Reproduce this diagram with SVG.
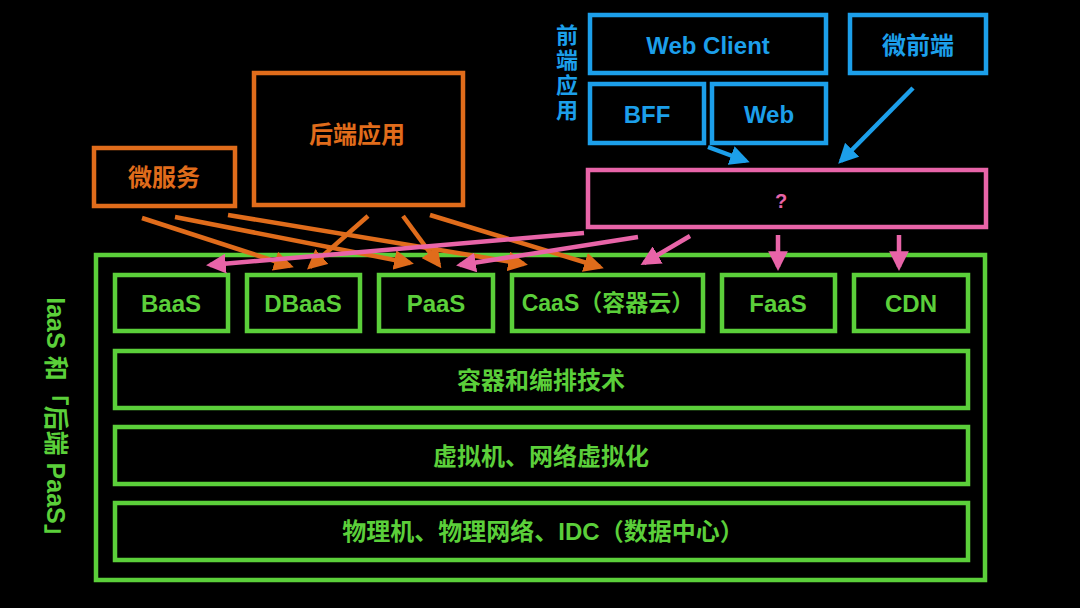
<svg xmlns="http://www.w3.org/2000/svg" width="1080" height="608" viewBox="0 0 1080 608">
<defs>
<style>
text{font-family:"Liberation Sans","Noto Sans CJK SC",sans-serif;font-weight:bold;font-size:24px;text-anchor:middle;dominant-baseline:central}
.o{fill:none;stroke:#E06C1B;stroke-width:4.5}
.b{fill:none;stroke:#1C9FEA;stroke-width:4.5}
.p{fill:none;stroke:#E864A8;stroke-width:4.5}
.g{fill:none;stroke:#5BCF3A;stroke-width:4.5}
.to{fill:#E06C1B}.tb{fill:#1C9FEA}.tp{fill:#E864A8}.tg{fill:#5BCF3A}
.v{font-size:22px}
</style>
<marker id="mo" viewBox="0 0 10 10" refX="8" refY="5" markerWidth="4.4" markerHeight="4.4" orient="auto"><path d="M0,0 L10,5 L0,10 z" fill="#E06C1B"/></marker>
<marker id="mb" viewBox="0 0 10 10" refX="8" refY="5" markerWidth="4.4" markerHeight="4.4" orient="auto"><path d="M0,0 L10,5 L0,10 z" fill="#1C9FEA"/></marker>
<marker id="mp" viewBox="0 0 10 10" refX="8" refY="5" markerWidth="4.4" markerHeight="4.4" orient="auto"><path d="M0,0 L10,5 L0,10 z" fill="#E864A8"/></marker>
</defs>
<rect width="1080" height="608" fill="#000"/>

<g id="backend">
<rect class="o" x="94" y="148" width="141" height="58"/>
<text class="to" x="164" y="177">微服务</text>
<rect class="o" x="254" y="73" width="209" height="132"/>
<text class="to" x="357" y="134">后端应用</text>
</g>

<g id="frontend">
<text class="tb v" x="567" y="35">前</text>
<text class="tb v" x="567" y="60">端</text>
<text class="tb v" x="567" y="85">应</text>
<text class="tb v" x="567" y="110">用</text>
<rect class="b" x="590" y="15" width="236" height="58"/>
<text class="tb" x="708" y="45">Web Client</text>
<rect class="b" x="850" y="15" width="136" height="58"/>
<text class="tb" x="918" y="45">微前端</text>
<rect class="b" x="590" y="84" width="114" height="59"/>
<text class="tb" x="647" y="114">BFF</text>
<rect class="b" x="712" y="84" width="114" height="59"/>
<text class="tb" x="769" y="114">Web</text>
</g>

<g id="unknown">
<rect class="p" x="588" y="170" width="398" height="57"/>
<text class="tp" x="781" y="201" style="font-size:20px">?</text>
</g>

<g id="platform">
<rect class="g" x="96" y="255" width="889" height="325"/>
<text class="tg" transform="translate(56,423) rotate(90)" style="font-size:25px">IaaS 和「后端 PaaS」</text>
<rect class="g" x="115" y="275" width="113" height="56"/>
<text class="tg" x="171" y="303">BaaS</text>
<rect class="g" x="247" y="275" width="113" height="56"/>
<text class="tg" x="303" y="303">DBaaS</text>
<rect class="g" x="379" y="275" width="114" height="56"/>
<text class="tg" x="436" y="303">PaaS</text>
<rect class="g" x="512" y="275" width="191" height="56"/>
<text class="tg" x="608" y="303" style="font-size:23px">CaaS（容器云）</text>
<rect class="g" x="722" y="275" width="113" height="56"/>
<text class="tg" x="778" y="303">FaaS</text>
<rect class="g" x="854" y="275" width="114" height="56"/>
<text class="tg" x="911" y="303">CDN</text>
<rect class="g" x="115" y="351" width="853" height="57"/>
<text class="tg" x="541" y="380">容器和编排技术</text>
<rect class="g" x="115" y="427" width="853" height="57"/>
<text class="tg" x="541" y="456">虚拟机、网络虚拟化</text>
<rect class="g" x="115" y="503" width="853" height="57"/>
<text class="tg" x="543" y="531">物理机、物理网络、IDC（数据中心）</text>
</g>

<g id="connectors">
<line class="o" x1="142" y1="218" x2="290" y2="266" marker-end="url(#mo)"/>
<line class="o" x1="175" y1="217" x2="410" y2="263" marker-end="url(#mo)"/>
<line class="o" x1="228" y1="215" x2="524" y2="264" marker-end="url(#mo)"/>
<line class="o" x1="368" y1="216" x2="310" y2="267" marker-end="url(#mo)"/>
<line class="o" x1="403" y1="216" x2="439" y2="265" marker-end="url(#mo)"/>
<line class="o" x1="430" y1="215" x2="600" y2="267" marker-end="url(#mo)"/>
<line class="p" x1="584" y1="233" x2="210" y2="265" marker-end="url(#mp)"/>
<line class="p" x1="638" y1="237" x2="460" y2="265" marker-end="url(#mp)"/>
<line class="p" x1="690" y1="236" x2="644" y2="263" marker-end="url(#mp)"/>
<line class="p" x1="778" y1="235" x2="778" y2="267" marker-end="url(#mp)"/>
<line class="p" x1="899" y1="235" x2="899" y2="267" marker-end="url(#mp)"/>
<line class="b" x1="708" y1="147" x2="746" y2="161" marker-end="url(#mb)"/>
<line class="b" x1="913" y1="88" x2="841" y2="161" marker-end="url(#mb)"/>
</g>
</svg>
